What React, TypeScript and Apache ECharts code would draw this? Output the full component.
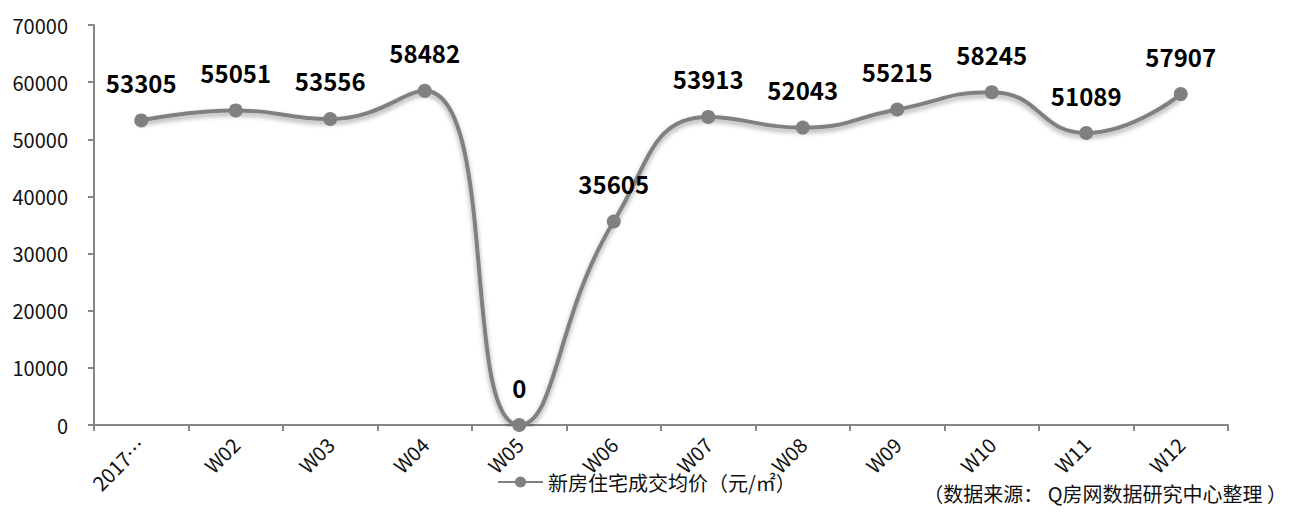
import React, { useEffect, useRef } from "react";
import * as echarts from "echarts";

const categories = ["2017…", "W02", "W03", "W04", "W05", "W06", "W07", "W08", "W09", "W10", "W11", "W12"];
const values = [53305, 55051, 53556, 58482, 0, 35605, 53913, 52043, 55215, 58245, 51089, 57907];
const seriesName = "新房住宅成交均价（元/㎡）";
const sourceText = "（数据来源： Q房网数据研究中心整理 ）";

const FONT = "'Noto Sans CJK SC', 'Noto Sans', sans-serif";

export default function App() {
  const ref = useRef<HTMLDivElement>(null);
  useEffect(() => {
    if (!ref.current) return;
    const chart = echarts.init(ref.current, undefined, { renderer: "svg" });
    chart.setOption({
      animation: false,
      backgroundColor: "#ffffff",
      grid: { left: 94, right: 67, top: 25, bottom: 89, containLabel: false },
      legend: {
        data: [seriesName],
        left: 492,
        top: 467,
        itemWidth: 45,
        itemHeight: 14,
        itemGap: 4,
        textStyle: { fontFamily: FONT, fontSize: 20, color: "#111" },
      },
      graphic: [
        {
          type: "text",
          right: 8,
          top: 483,
          style: { text: sourceText, font: `20px ${FONT}`, fill: "#111" },
        },
      ],
      xAxis: {
        type: "category",
        data: categories,
        boundaryGap: true,
        axisLine: { lineStyle: { color: "#868686", width: 2 } },
        axisTick: { show: true, length: 6, alignWithLabel: false, lineStyle: { color: "#868686", width: 2 } },
        axisLabel: {
          interval: 0,
          rotate: 45,
          margin: 16,
          fontFamily: FONT,
          fontSize: 20,
          color: "#111",
        },
      },
      yAxis: {
        type: "value",
        min: 0,
        max: 70000,
        interval: 10000,
        splitLine: { show: false },
        axisLine: { show: true, lineStyle: { color: "#868686", width: 2 } },
        axisTick: { show: true, length: 6, lineStyle: { color: "#868686", width: 2 } },
        axisLabel: {
          margin: 26,
          fontFamily: FONT,
          fontSize: 20,
          color: "#111",
          formatter: (v: number) => String(v),
        },
      },
      series: [
        {
          name: seriesName,
          type: "line",
          data: values,
          smooth: 0.5,
          symbol: "circle",
          symbolSize: 14,
          itemStyle: { color: "#808080" },
          lineStyle: {
            color: "#808080",
            width: 4,
            shadowColor: "rgba(0,0,0,0.35)",
            shadowBlur: 5,
            shadowOffsetY: 3,
          },
          label: {
            show: true,
            position: "top",
            distance: 19,
            fontFamily: FONT,
            fontSize: 24,
            fontWeight: "bold",
            color: "#000",
          },
        },
      ],
    });
    return () => chart.dispose();
  }, []);
  return <div ref={ref} style={{ position: "absolute", left: 0, top: 0, width: 1295, height: 514 }} />;
}
